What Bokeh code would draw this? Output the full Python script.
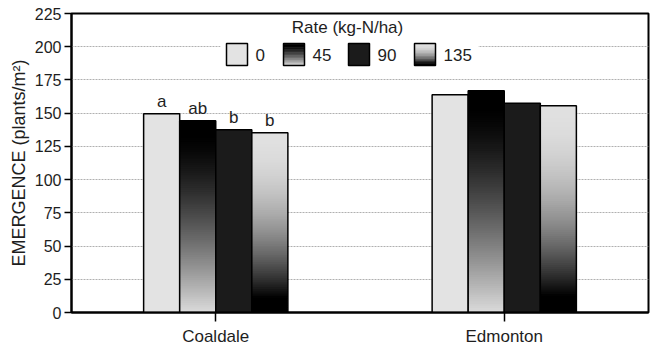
from bokeh.plotting import figure
from bokeh.models import ColumnDataSource, FixedTicker, Range1d
from bokeh.core.properties import value
from bokeh.embed import file_html
from bokeh.resources import INLINE

# ---- data ----
sites = ["Coaldale", "Edmonton"]
rate_labels = ["0", "45", "90", "135"]
em_0 = [149.5, 163.8]
em_45 = [144.3, 166.8]
em_90 = [137.5, 157.5]
em_135 = [135.2, 155.5]
sig_0 = ["a", ""]
sig_45 = ["ab", ""]
sig_90 = ["b", ""]
sig_135 = ["b", ""]
y_ticks = [0, 25, 50, 75, 100, 125, 150, 175, 200, 225]
y_title = "EMERGENCE (plants/m²)"
legend_title = "Rate (kg-N/ha)"

FONT = "Liberation Sans"
TXT = "#1e1e1e"


def gray(v):
    g = int(round(max(0.0, min(1.0, v)) * 255))
    return "#%02x%02x%02x" % (g, g, g)


def shade_45(t):  # black at top -> light at bottom
    if t < 0.08:
        return 0.0
    return 0.86 * ((t - 0.08) / 0.92) ** 1.35


def shade_135(t):  # light at top -> black at bottom
    return 0.88 * (1 - min(t / 0.92, 1.0) ** 2)


# None = flat fill
shaders = [None, shade_45, None, shade_135]
flat_fill = ["#e3e3e3", None, "#1b1b1b", None]
series = [em_0, em_45, em_90, em_135]
sigs = [sig_0, sig_45, sig_90, sig_135]
offsets = [-0.1875, -0.0625, 0.0625, 0.1875]
BAR_W = 0.125
N = 100
site_pos = [i + 0.5 for i in range(len(sites))]

p = figure(width=650, height=349,
           x_range=Range1d(0, len(sites)),
           y_range=Range1d(0, 225),
           output_backend="svg", toolbar_location=None,
           min_border_left=71, min_border_right=2,
           min_border_top=13, min_border_bottom=37)
p.background_fill_color = "white"
p.border_fill_color = "white"
p.outline_line_color = "black"
p.outline_line_width = 2

p.xgrid.visible = False
p.ygrid.grid_line_color = "#b0b0b0"
p.ygrid.grid_line_dash = "2 1"
p.ygrid.grid_line_width = 1

p.yaxis.ticker = FixedTicker(ticks=y_ticks)
p.yaxis.axis_label = y_title
p.yaxis.axis_label_text_font = FONT
p.yaxis.axis_label_text_font_size = "18px"
p.yaxis.axis_label_text_font_style = "normal"
p.yaxis.axis_label_text_color = TXT
p.yaxis.axis_label_standoff = 3
p.yaxis.major_label_text_font = FONT
p.yaxis.major_label_text_font_size = "16px"
p.yaxis.major_label_text_color = TXT
p.yaxis.major_label_standoff = 3
p.yaxis.major_tick_out = 7
p.yaxis.major_tick_in = 0
p.yaxis.minor_tick_line_color = None
p.yaxis.axis_line_width = 2
p.yaxis.major_tick_line_width = 1.5

p.xaxis.ticker = FixedTicker(ticks=site_pos)
p.xaxis.major_label_overrides = {pos: s for pos, s in zip(site_pos, sites)}
p.xaxis.major_label_text_font = FONT
p.xaxis.major_label_text_font_size = "17px"
p.xaxis.major_label_text_color = TXT
p.xaxis.major_tick_out = 9
p.xaxis.major_tick_in = 0
p.xaxis.minor_tick_line_color = None
p.xaxis.major_label_standoff = 5
p.xaxis.axis_line_width = 2
p.xaxis.major_tick_line_width = 1.5

# ---- bars ----
for vals, shader, fc, off, sig in zip(series, shaders, flat_fill, offsets, sigs):
    xc = [sp + off for sp in site_pos]
    src = ColumnDataSource(dict(x=xc, val=vals, lab=sig))
    if shader is None:
        p.vbar(x="x", top="val", width=BAR_W, source=src,
               fill_color=fc, line_color=None)
    else:
        sl = {"x": [], "bottom": [], "top": [], "color": []}
        for x, v in zip(xc, vals):
            for k in range(N):
                t = (k + 0.5) / N
                sl["x"].append(x)
                sl["top"].append(v * (1 - k / N))
                sl["bottom"].append(max(0.0, v * (1 - (k + 1) / N) - 0.6))
                sl["color"].append(gray(shader(t)))
        p.vbar(x="x", bottom="bottom", top="top", width=BAR_W,
               source=ColumnDataSource(sl), fill_color="color",
               line_color=None)
    p.vbar(x="x", top="val", width=BAR_W, source=src,
           fill_color=None, line_color="black", line_width=1.5)
    p.text(x="x", y="val", text="lab", source=src, y_offset=-3,
           text_align="center", text_baseline="bottom",
           text_font=value(FONT), text_font_size="17px", text_color=TXT)

# ---- legend (drawn in pixel-like extra ranges) ----
p.extra_x_ranges = {"px": Range1d(71, 648)}
p.extra_y_ranges = {"py": Range1d(312, 13)}

p.quad(left=[220], right=[478], top=[16], bottom=[70],
       x_range_name="px", y_range_name="py",
       fill_color="white", line_color=None)

sw_left = [226, 283, 348, 414]
sw_w, sw_top, sw_bot = 21, 43, 65
for shader, fc, lx in zip(shaders, flat_fill, sw_left):
    if shader is None:
        p.quad(left=[lx], right=[lx + sw_w], top=[sw_top], bottom=[sw_bot],
               fill_color=fc, line_color=None,
               x_range_name="px", y_range_name="py")
    else:
        M = 30
        d = {"l": [], "r": [], "t": [], "b": [], "c": []}
        for k in range(M):
            t = (k + 0.5) / M
            d["l"].append(lx)
            d["r"].append(lx + sw_w)
            d["t"].append(sw_top + (sw_bot - sw_top) * k / M)
            d["b"].append(min(sw_bot, sw_top + (sw_bot - sw_top) * (k + 1) / M + 0.5))
            d["c"].append(gray(shader(t)))
        p.quad(left="l", right="r", top="t", bottom="b", source=ColumnDataSource(d),
               fill_color="c", line_color=None,
               x_range_name="px", y_range_name="py")
    p.quad(left=[lx], right=[lx + sw_w], top=[sw_top], bottom=[sw_bot],
           fill_color=None, line_color="black", line_width=1.5,
           x_range_name="px", y_range_name="py")

p.text(x=[l + sw_w + 8 for l in sw_left], y=[54.5] * 4, text=rate_labels,
       x_range_name="px", y_range_name="py",
       text_align="left", text_baseline="middle",
       text_font=value(FONT), text_font_size="17px", text_color=TXT)
p.text(x=[347], y=[27], text=[legend_title],
       x_range_name="px", y_range_name="py",
       text_align="center", text_baseline="middle",
       text_font=value(FONT), text_font_size="17px", text_color=TXT)

open("out.html", "w").write(file_html(p, INLINE))
